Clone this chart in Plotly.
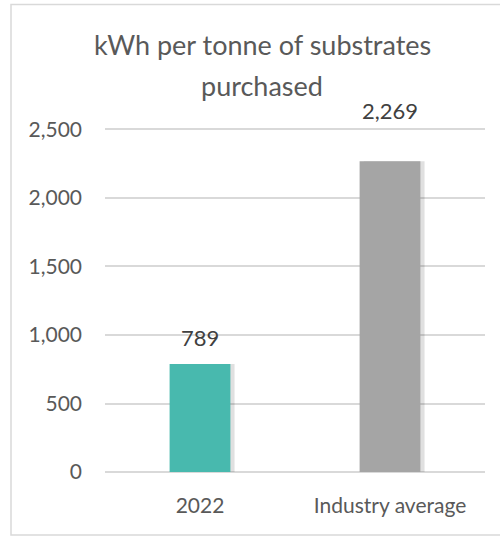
import plotly.graph_objects as go

categories = ["2022", "Industry average"]
values = [789, 2269]
bar_colors = ["#48B9AE", "#A5A5A5"]
tick_vals = [0, 500, 1000, 1500, 2000, 2500]
tick_text = ["0", "500", "1,000", "1,500", "2,000", "2,500"]
title_lines = ["kWh per tonne of substrates", "purchased"]

FONT = "Lato, Open Sans, sans-serif"
GREY = "#595959"

W, H = 500, 538
M_L, M_R = 105, 15
M_T, M_B = 124, 66
PLOT_W = W - M_L - M_R
PLOT_H = H - M_T - M_B

fig = go.Figure()
# soft shadow behind bars
fig.add_trace(go.Bar(
    x=categories, y=values,
    marker=dict(color="rgba(0,0,0,0.12)", line=dict(width=0)),
    width=0.32, offset=-0.16 + 0.022,
    hoverinfo="skip",
))
fig.add_trace(go.Bar(
    x=categories, y=values,
    marker=dict(color=bar_colors, line=dict(width=0)),
    width=0.32, offset=-0.16,
))

annotations = []
label_shifts = [26, 51]
for i, (val, sh) in enumerate(zip(values, label_shifts)):
    annotations.append(dict(
        x=i, y=val, xref="x", yref="y", text=f"{val:,}",
        showarrow=False, yshift=sh, yanchor="middle", xanchor="center",
        font=dict(family=FONT, size=22, color="#404040"),
    ))
for i, line in enumerate(title_lines):
    py = 45 + 40 * i
    annotations.append(dict(
        x=(262 - M_L) / PLOT_W, xref="paper", xanchor="center",
        y=(H - M_B - py) / PLOT_H, yref="paper", yanchor="middle",
        text=line, showarrow=False,
        font=dict(family=FONT, size=27, color=GREY),
    ))

fig.update_layout(
    width=W, height=H,
    margin=dict(l=M_L, r=M_R, t=M_T, b=M_B),
    paper_bgcolor="white", plot_bgcolor="white",
    showlegend=False,
    barmode="overlay",
    annotations=annotations,
    xaxis=dict(
        type="category",
        showgrid=False, showline=False, zeroline=False,
        tickfont=dict(family=FONT, size=21, color=GREY),
        ticks="", ticklabelstandoff=19,
    ),
    yaxis=dict(
        range=[0, 2540],
        tickvals=tick_vals, ticktext=tick_text,
        showgrid=True, gridcolor="#D9D9D9", gridwidth=1.5,
        zeroline=True, zerolinecolor="#D9D9D9", zerolinewidth=1.5,
        showline=False, ticks="",
        tickfont=dict(family=FONT, size=21, color=GREY),
        ticklabelstandoff=22,
    ),
    shapes=[
        dict(type="rect", xref="paper", yref="paper",
             x0=(11 - M_L) / PLOT_W, x1=1.1,
             y0=(H - M_B - 535) / PLOT_H, y1=(H - M_B - 4.5) / PLOT_H,
             line=dict(color="#D9D9D9", width=1.5), fillcolor="rgba(0,0,0,0)",
             layer="below"),
    ],
)

fig.write_html("out.html", config={"displayModeBar": False},
               post_script="document.body.style.margin='0';")
